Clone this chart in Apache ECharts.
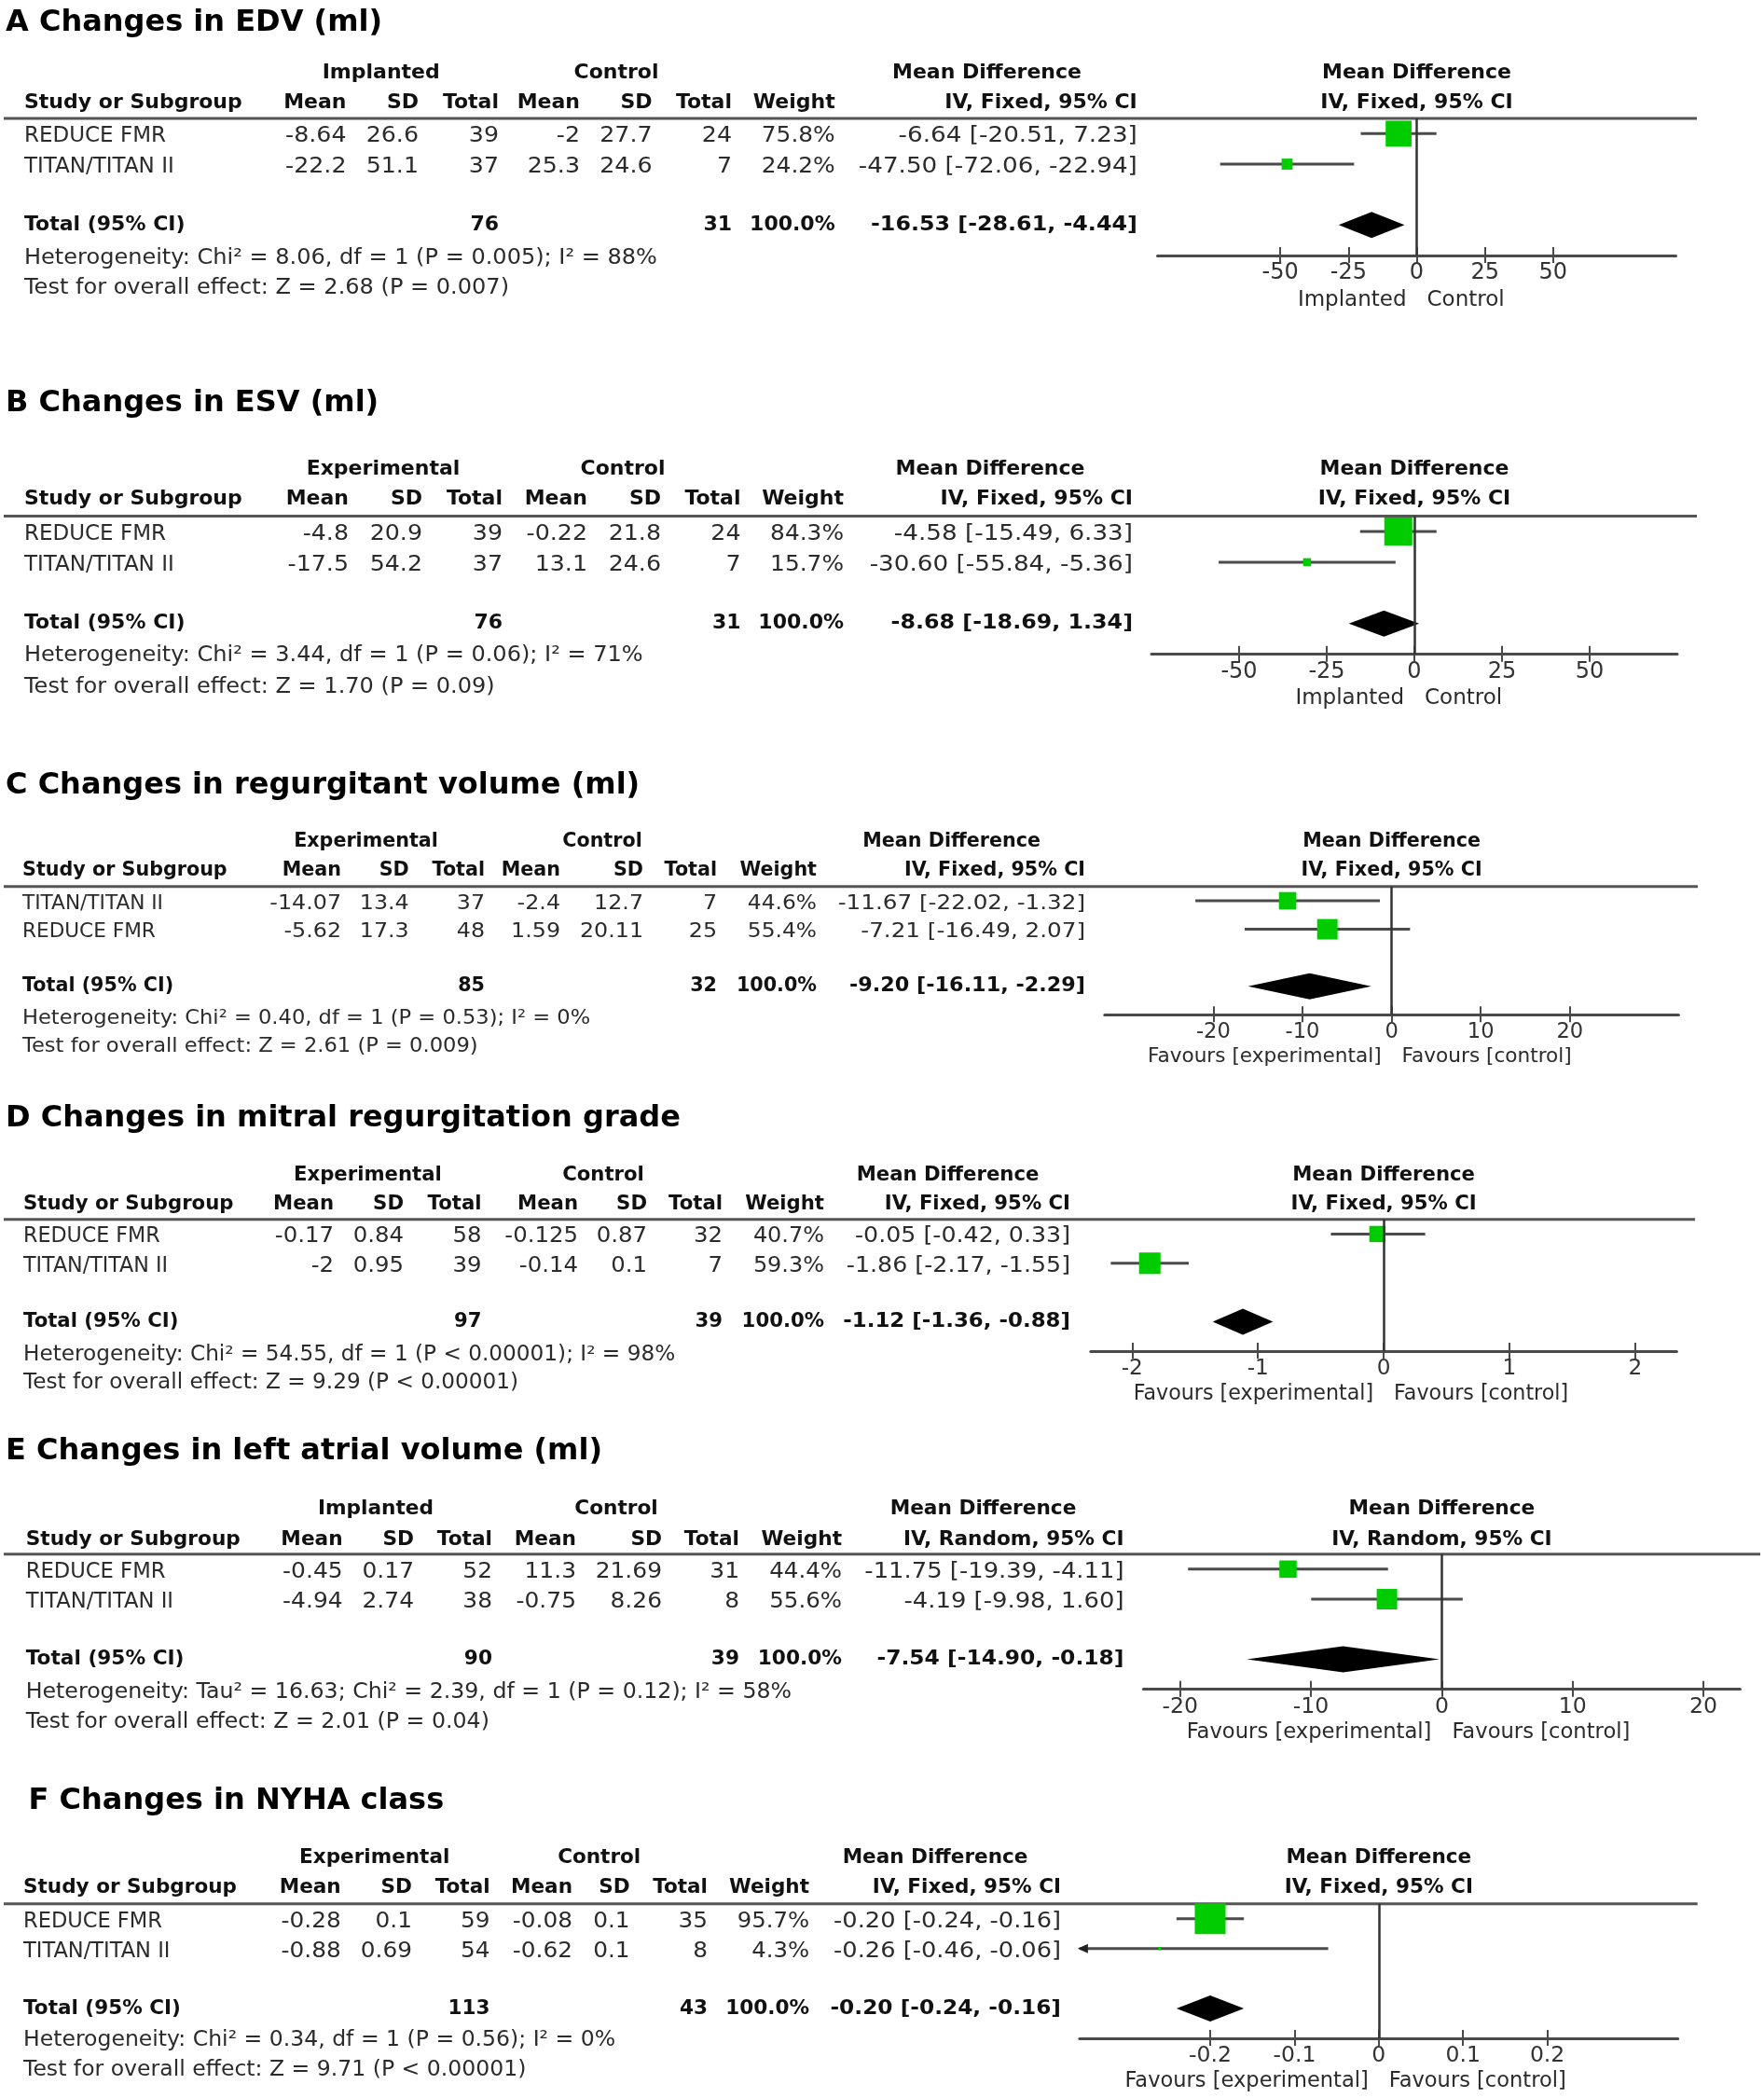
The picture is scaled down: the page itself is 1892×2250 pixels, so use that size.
<!DOCTYPE html>
<html>
<head>
<meta charset="utf-8">
<script src="https://cdn.jsdelivr.net/npm/echarts@6/dist/echarts.min.js"></script>
<style>
  html, body { margin: 0; padding: 0; background: #ffffff; }
  #c { width: 1892px; height: 2250px; }
</style>
</head>
<body>
<div id="c"></div>
<script>
// ---------------- DATA ----------------
// Panel A
const A_title = 'A Changes in EDV (ml)';
const A_groups = ['Implanted', 'Control'];
const A_method = 'IV, Fixed, 95% CI';
const A_studies = ['REDUCE FMR', 'TITAN/TITAN II'];
const A_exp = [[-8.64, 26.6, 39], [-22.2, 51.1, 37]];
const A_ctl = [[-2, 27.7, 24], [25.3, 24.6, 7]];
const A_weight = [75.8, 24.2];
const A_md = [[-6.64, -20.51, 7.23], [-47.50, -72.06, -22.94]];
const A_totalN = [76, 31];
const A_totalMD = [-16.53, -28.61, -4.44];
const A_het = 'Heterogeneity: Chi² = 8.06, df = 1 (P = 0.005); I² = 88%';
const A_test = 'Test for overall effect: Z = 2.68 (P = 0.007)';
const A_ticks = [-50, -25, 0, 25, 50];
const A_favours = ['Implanted', 'Control'];

// Panel B
const B_title = 'B Changes in ESV (ml)';
const B_groups = ['Experimental', 'Control'];
const B_method = 'IV, Fixed, 95% CI';
const B_studies = ['REDUCE FMR', 'TITAN/TITAN II'];
const B_exp = [[-4.8, 20.9, 39], [-17.5, 54.2, 37]];
const B_ctl = [[-0.22, 21.8, 24], [13.1, 24.6, 7]];
const B_weight = [84.3, 15.7];
const B_md = [[-4.58, -15.49, 6.33], [-30.60, -55.84, -5.36]];
const B_totalN = [76, 31];
const B_totalMD = [-8.68, -18.69, 1.34];
const B_het = 'Heterogeneity: Chi² = 3.44, df = 1 (P = 0.06); I² = 71%';
const B_test = 'Test for overall effect: Z = 1.70 (P = 0.09)';
const B_ticks = [-50, -25, 0, 25, 50];
const B_favours = ['Implanted', 'Control'];

// Panel C
const C_title = 'C Changes in regurgitant volume (ml)';
const C_groups = ['Experimental', 'Control'];
const C_method = 'IV, Fixed, 95% CI';
const C_studies = ['TITAN/TITAN II', 'REDUCE FMR'];
const C_exp = [[-14.07, 13.4, 37], [-5.62, 17.3, 48]];
const C_ctl = [[-2.4, 12.7, 7], [1.59, 20.11, 25]];
const C_weight = [44.6, 55.4];
const C_md = [[-11.67, -22.02, -1.32], [-7.21, -16.49, 2.07]];
const C_totalN = [85, 32];
const C_totalMD = [-9.20, -16.11, -2.29];
const C_het = 'Heterogeneity: Chi² = 0.40, df = 1 (P = 0.53); I² = 0%';
const C_test = 'Test for overall effect: Z = 2.61 (P = 0.009)';
const C_ticks = [-20, -10, 0, 10, 20];
const C_favours = ['Favours [experimental]', 'Favours [control]'];

// Panel D
const D_title = 'D Changes in mitral regurgitation grade';
const D_groups = ['Experimental', 'Control'];
const D_method = 'IV, Fixed, 95% CI';
const D_studies = ['REDUCE FMR', 'TITAN/TITAN II'];
const D_exp = [[-0.17, 0.84, 58], [-2, 0.95, 39]];
const D_ctl = [[-0.125, 0.87, 32], [-0.14, 0.1, 7]];
const D_weight = [40.7, 59.3];
const D_md = [[-0.05, -0.42, 0.33], [-1.86, -2.17, -1.55]];
const D_totalN = [97, 39];
const D_totalMD = [-1.12, -1.36, -0.88];
const D_het = 'Heterogeneity: Chi² = 54.55, df = 1 (P < 0.00001); I² = 98%';
const D_test = 'Test for overall effect: Z = 9.29 (P < 0.00001)';
const D_ticks = [-2, -1, 0, 1, 2];
const D_favours = ['Favours [experimental]', 'Favours [control]'];

// Panel E
const E_title = 'E Changes in left atrial volume (ml)';
const E_groups = ['Implanted', 'Control'];
const E_method = 'IV, Random, 95% CI';
const E_studies = ['REDUCE FMR', 'TITAN/TITAN II'];
const E_exp = [[-0.45, 0.17, 52], [-4.94, 2.74, 38]];
const E_ctl = [[11.3, 21.69, 31], [-0.75, 8.26, 8]];
const E_weight = [44.4, 55.6];
const E_md = [[-11.75, -19.39, -4.11], [-4.19, -9.98, 1.60]];
const E_totalN = [90, 39];
const E_totalMD = [-7.54, -14.90, -0.18];
const E_het = 'Heterogeneity: Tau² = 16.63; Chi² = 2.39, df = 1 (P = 0.12); I² = 58%';
const E_test = 'Test for overall effect: Z = 2.01 (P = 0.04)';
const E_ticks = [-20, -10, 0, 10, 20];
const E_favours = ['Favours [experimental]', 'Favours [control]'];

// Panel F
const F_title = 'F Changes in NYHA class';
const F_groups = ['Experimental', 'Control'];
const F_method = 'IV, Fixed, 95% CI';
const F_studies = ['REDUCE FMR', 'TITAN/TITAN II'];
const F_exp = [[-0.28, 0.1, 59], [-0.88, 0.69, 54]];
const F_ctl = [[-0.08, 0.1, 35], [-0.62, 0.1, 8]];
const F_weight = [95.7, 4.3];
const F_md = [[-0.20, -0.24, -0.16], [-0.26, -0.46, -0.06]];
const F_totalN = [113, 43];
const F_totalMD = [-0.20, -0.24, -0.16];
const F_het = 'Heterogeneity: Chi² = 0.34, df = 1 (P = 0.56); I² = 0%';
const F_test = 'Test for overall effect: Z = 9.71 (P < 0.00001)';
const F_ticks = [-0.2, -0.1, 0, 0.1, 0.2];
const F_favours = ['Favours [experimental]', 'Favours [control]'];

const COL_HEADERS = ['Mean', 'SD', 'Total', 'Mean', 'SD', 'Total', 'Weight'];

// ---------------- LAYOUT (pixels) ----------------
const LAYOUT = [
  {s: 1.0, titleX: 6, titleY: 25, hdr1: 78, hdr2: 110, rule: 127, ruleEnd: 1820, axis: 274, het: 277, test: 309, fav: 322,
   studyX: 26, cols: [371.5, 449, 535, 622, 699.6, 785, 895.7, 1219.8], groups: [408.7, 661, 1058.5],
   left: 1241.5, width: 556, range: [-95, 95]},
  {s: 1.0, titleX: 6, titleY: 433, hdr1: 503, hdr2: 535, rule: 553.5, ruleEnd: 1820, axis: 701.7, het: 703, test: 737, fav: 749,
   studyX: 26, cols: [374, 453, 539, 630, 709, 794.5, 905, 1215], groups: [411, 668, 1062],
   left: 1235, width: 564, range: [-75, 75]},
  {s: 0.94, titleX: 6, titleY: 843, hdr1: 903, hdr2: 934, rule: 950.7, ruleEnd: 1821, axis: 1088.3, het: 1092, test: 1122, fav: 1133.3,
   studyX: 24, cols: [366, 438.7, 520, 601, 690, 769, 876, 1164], groups: [392.5, 646, 1020.6],
   left: 1184.8, width: 615.6, range: [-32.2, 32.2]},
  {s: 0.965, titleX: 6, titleY: 1200, hdr1: 1260, hdr2: 1291, rule: 1307.7, ruleEnd: 1818, axis: 1449, het: 1453, test: 1483, fav: 1495,
   studyX: 25, cols: [358, 433, 516.5, 620, 694, 775, 884, 1148], groups: [394.4, 647, 1016.5],
   left: 1169.8, width: 628.6, range: [-2.33, 2.33]},
  {s: 0.985, titleX: 6, titleY: 1557, hdr1: 1618, hdr2: 1651, rule: 1666.7, ruleEnd: 1888, axis: 1811.7, het: 1815, test: 1847, fav: 1858.3,
   studyX: 27.7, cols: [367.6, 444, 528, 618, 710, 793, 903, 1205.5], groups: [403, 661, 1054.5],
   left: 1226.4, width: 640, range: [-22.8, 22.8]},
  {s: 0.98, titleX: 30.6, titleY: 1932, hdr1: 1992, hdr2: 2024, rule: 2041.7, ruleEnd: 1820.7, axis: 2186, het: 2188, test: 2220, fav: 2231.7,
   studyX: 25, cols: [365.7, 442, 525.6, 614, 675.6, 759, 868, 1138], groups: [401.7, 642.7, 1003],
   left: 1157.9, width: 641.8, range: [-0.355, 0.355]}
];

const PANELS = [
  {title: A_title, groups: A_groups, method: A_method, studies: A_studies, exp: A_exp, ctl: A_ctl, weight: A_weight, md: A_md, totalN: A_totalN, totalMD: A_totalMD, het: A_het, test: A_test, ticks: A_ticks, favours: A_favours},
  {title: B_title, groups: B_groups, method: B_method, studies: B_studies, exp: B_exp, ctl: B_ctl, weight: B_weight, md: B_md, totalN: B_totalN, totalMD: B_totalMD, het: B_het, test: B_test, ticks: B_ticks, favours: B_favours},
  {title: C_title, groups: C_groups, method: C_method, studies: C_studies, exp: C_exp, ctl: C_ctl, weight: C_weight, md: C_md, totalN: C_totalN, totalMD: C_totalMD, het: C_het, test: C_test, ticks: C_ticks, favours: C_favours},
  {title: D_title, groups: D_groups, method: D_method, studies: D_studies, exp: D_exp, ctl: D_ctl, weight: D_weight, md: D_md, totalN: D_totalN, totalMD: D_totalMD, het: D_het, test: D_test, ticks: D_ticks, favours: D_favours},
  {title: E_title, groups: E_groups, method: E_method, studies: E_studies, exp: E_exp, ctl: E_ctl, weight: E_weight, md: E_md, totalN: E_totalN, totalMD: E_totalMD, het: E_het, test: E_test, ticks: E_ticks, favours: E_favours},
  {title: F_title, groups: F_groups, method: F_method, studies: F_studies, exp: F_exp, ctl: F_ctl, weight: F_weight, md: F_md, totalN: F_totalN, totalMD: F_totalMD, het: F_het, test: F_test, ticks: F_ticks, favours: F_favours}
];

// ---------------- BUILD ----------------
const FAM = '"DejaVu Sans", "Noto Sans", sans-serif';
const TITLE = 'bold 32px ' + FAM;
const TXT = '#2b2b2b';
const BLK = '#111111';
const LINE = '#4a4a4a';
const GREEN = '#00cc00';
const Y_MIN = -0.5, Y_MAX = 4;
// horizontal glyph widening to mimic the wider figures of the original font
const SX_NUM = 1.1, SX_W = 1.08, SX_CI = 1.14, SX_NOTE = 1.045, SX_TCI = 1.08;

const grids = [], xAxes = [], yAxes = [], series = [], graphics = [];

function text(x, y, str, font, align, color, sx) {
  graphics.push({
    type: 'text', x: x, y: y, silent: true, scaleX: sx || 1,
    style: {text: str, font: font, fill: color || TXT,
            textAlign: align || 'left', textVerticalAlign: 'middle',
            align: align || 'left', verticalAlign: 'middle'}
  });
}
function hline(x1, x2, y, w, c) {
  graphics.push({type: 'line', silent: true, shape: {x1: x1, y1: y, x2: x2, y2: y},
                 style: {stroke: c || '#555', lineWidth: w || 3}});
}
function ciText(m) {
  return m[0].toFixed(2) + ' [' + m[1].toFixed(2) + ', ' + m[2].toFixed(2) + ']';
}

PANELS.forEach(function (P, i) {
  const L = LAYOUT[i];
  const REG = (23 * L.s).toFixed(2) + 'px ' + FAM;
  const BOLD = 'bold ' + (22 * L.s).toFixed(2) + 'px ' + FAM;
  const rowY = function (idx) { return L.rule + (idx - Y_MIN) / (Y_MAX - Y_MIN) * (L.axis - L.rule); };
  const zeroX = L.left + L.width * (0 - L.range[0]) / (L.range[1] - L.range[0]);

  // Title
  text(L.titleX, L.titleY, P.title, TITLE, 'left', '#000');
  // Header row 1
  text(L.groups[0], L.hdr1, P.groups[0], BOLD, 'center', BLK);
  text(L.groups[1], L.hdr1, P.groups[1], BOLD, 'center', BLK);
  text(L.groups[2], L.hdr1, 'Mean Difference', BOLD, 'center', BLK);
  text(zeroX, L.hdr1, 'Mean Difference', BOLD, 'center', BLK);
  // Header row 2
  text(L.studyX, L.hdr2, 'Study or Subgroup', BOLD, 'left', BLK);
  COL_HEADERS.forEach(function (h, k) { text(L.cols[k], L.hdr2, h, BOLD, 'right', BLK); });
  text(L.cols[7], L.hdr2, P.method, BOLD, 'right', BLK);
  text(zeroX, L.hdr2, P.method, BOLD, 'center', BLK);
  // Rule
  hline(4, L.ruleEnd, L.rule, 3, '#555');

  // Study rows
  P.studies.forEach(function (s, r) {
    const y = rowY(r) + 3;
    text(L.studyX, y, s, REG, 'left');
    const vals = [P.exp[r][0], P.exp[r][1], P.exp[r][2], P.ctl[r][0], P.ctl[r][1], P.ctl[r][2]];
    vals.forEach(function (v, k) { text(L.cols[k], y, String(v), REG, 'right', TXT, SX_NUM); });
    text(L.cols[6], y, P.weight[r].toFixed(1) + '%', REG, 'right', TXT, SX_W);
    text(L.cols[7], y, ciText(P.md[r]), REG, 'right', TXT, SX_CI);
  });
  // Total row
  const ty = rowY(3);
  text(L.studyX, ty, 'Total (95% CI)', BOLD, 'left', BLK);
  text(L.cols[2], ty, String(P.totalN[0]), BOLD, 'right', BLK);
  text(L.cols[5], ty, String(P.totalN[1]), BOLD, 'right', BLK);
  const wsum = P.weight.reduce(function (a, b) { return a + b; }, 0);
  text(L.cols[6], ty, wsum.toFixed(1) + '%', BOLD, 'right', BLK);
  text(L.cols[7], ty, ciText(P.totalMD), BOLD, 'right', BLK, SX_TCI);
  // Heterogeneity / test
  text(L.studyX, L.het, P.het, REG, 'left', TXT, SX_NOTE);
  text(L.studyX, L.test, P.test, REG, 'left', TXT, SX_NOTE);
  // Favours labels
  text(zeroX - 11, L.fav, P.favours[0], REG, 'right', TXT);
  text(zeroX + 11, L.fav, P.favours[1], REG, 'left', TXT);

  // Grid + axes
  grids.push({left: L.left, top: L.rule, width: L.width, height: L.axis - L.rule, containLabel: false});
  xAxes.push({
    gridIndex: i, type: 'value', min: L.range[0], max: L.range[1], position: 'bottom',
    axisLine: {show: true, onZero: false, lineStyle: {color: LINE, width: 3}},
    axisTick: {show: true, inside: false, length: 8, customValues: P.ticks, lineStyle: {color: LINE, width: 2}},
    axisLabel: {show: true, customValues: P.ticks, margin: 7, color: '#333', fontFamily: FAM,
                fontSize: Math.round(24 * L.s * 10) / 10,
                formatter: function (v) { return String(Math.round(v * 1000) / 1000); }},
    splitLine: {show: false}
  });
  xAxes.push({
    gridIndex: i, type: 'value', min: L.range[0], max: L.range[1], position: 'bottom',
    axisLine: {show: false, onZero: false},
    axisTick: {show: true, inside: true, length: 9, customValues: P.ticks, lineStyle: {color: LINE, width: 2}},
    axisLabel: {show: false}, splitLine: {show: false}
  });
  yAxes.push({gridIndex: i, type: 'value', min: Y_MIN, max: Y_MAX, inverse: true, show: false});

  const xMain = i * 2;
  const lo = L.range[0], hi = L.range[1];

  // Confidence interval lines (+ zero line)
  series.push({
    type: 'custom', xAxisIndex: xMain, yAxisIndex: i, z: 2, silent: true,
    encode: {x: [0, 1], y: 2},
    data: P.md.map(function (m, r) { return [m[1], m[2], r]; }),
    renderItem: function (params, api) {
      const a = api.value(0), b = api.value(1), y = api.value(2);
      const p1 = api.coord([Math.max(a, lo), y]);
      const p2 = api.coord([Math.min(b, hi), y]);
      const children = [{type: 'line', shape: {x1: p1[0], y1: p1[1], x2: p2[0], y2: p2[1]},
                         style: {stroke: LINE, lineWidth: 3}}];
      if (a < lo) {
        children.push({type: 'polygon', shape: {points: [[p1[0] - 2, p1[1]], [p1[0] + 9, p1[1] - 5], [p1[0] + 9, p1[1] + 5]]},
                       style: {fill: '#222'}});
      }
      if (b > hi) {
        children.push({type: 'polygon', shape: {points: [[p2[0] + 2, p2[1]], [p2[0] - 9, p2[1] - 5], [p2[0] - 9, p2[1] + 5]]},
                       style: {fill: '#222'}});
      }
      return {type: 'group', children: children};
    },
    markLine: {
      silent: true, symbol: ['none', 'none'], animation: false,
      label: {show: false},
      lineStyle: {color: '#333', width: 2.5, type: 'solid'},
      data: [{xAxis: 0}]
    }
  });
  // Study squares (size from weight)
  series.push({
    type: 'scatter', xAxisIndex: xMain, yAxisIndex: i, z: 4, silent: true,
    symbol: 'rect',
    symbolSize: function (v) { return 1.08 * Math.pow(v[2], 0.75); },
    itemStyle: {color: GREEN, opacity: 1},
    data: P.md.map(function (m, r) { return [m[0], r, P.weight[r]]; })
  });
  // Pooled diamond
  series.push({
    type: 'custom', xAxisIndex: xMain, yAxisIndex: i, z: 3, silent: true,
    encode: {x: [0, 1, 2], y: 3},
    data: [[P.totalMD[1], P.totalMD[2], P.totalMD[0], 3]],
    renderItem: function (params, api) {
      const y = api.value(3);
      const pl = api.coord([api.value(0), y]);
      const pr = api.coord([api.value(1), y]);
      const pc = api.coord([api.value(2), y]);
      const h = 14;
      return {type: 'polygon', shape: {points: [[pl[0], pl[1]], [pc[0], pc[1] - h], [pr[0], pr[1]], [pc[0], pc[1] + h]]},
              style: {fill: '#000'}};
    }
  });
});

const chart = echarts.init(document.getElementById('c'), null, {renderer: 'canvas', width: 1892, height: 2250});
chart.setOption({
  backgroundColor: '#ffffff',
  animation: false,
  textStyle: {fontFamily: FAM},
  grid: grids,
  xAxis: xAxes,
  yAxis: yAxes,
  series: series,
  graphic: {elements: graphics}
});
</script>
</body>
</html>
